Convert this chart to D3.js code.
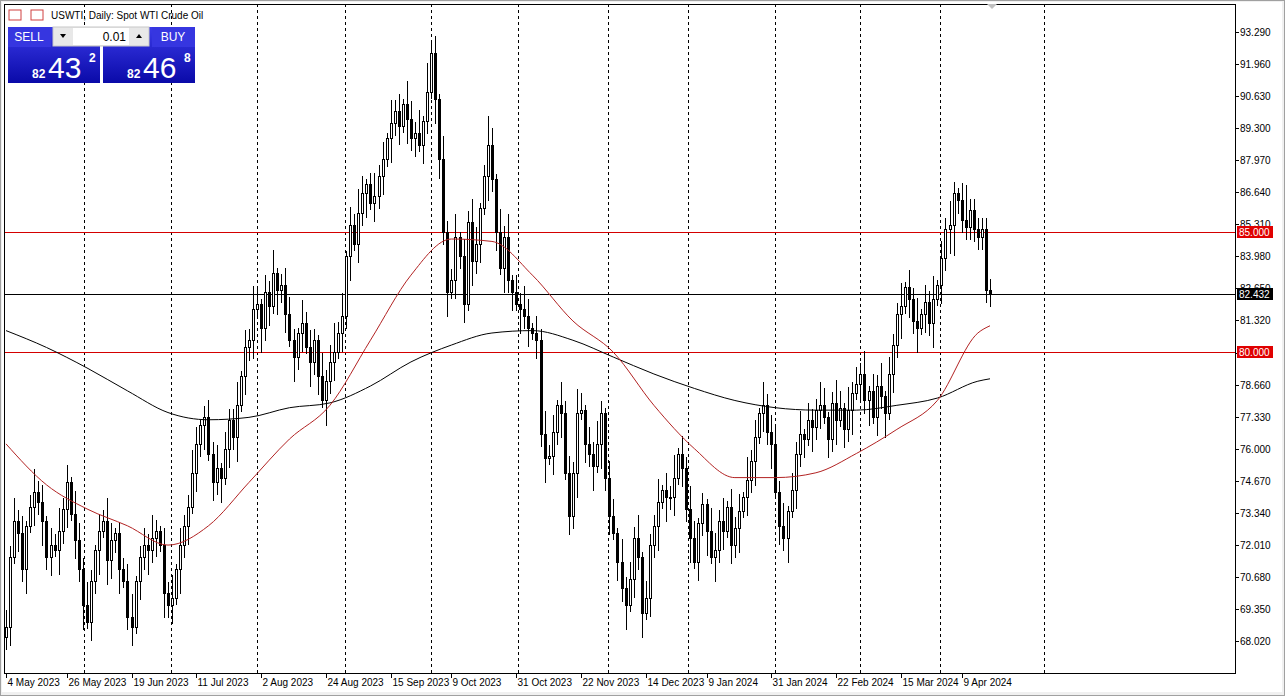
<!DOCTYPE html>
<html><head><meta charset="utf-8">
<script src="https://cdn.jsdelivr.net/npm/d3@7"></script>
<style>body{margin:0;background:#fff;overflow:hidden}svg{display:block}text{font-family:"Liberation Sans",Arial,sans-serif}</style>
</head><body><svg id="c" width="1285" height="696"></svg>
<script>
// closing prices, one per daily bar, 4 May 2023 → Apr 2024
const closes = [68.6,71.5,73.0,72.5,71.0,72.8,73.6,74.2,73.8,73.0,71.5,72.0,71.8,72.6,73.5,74.6,73.3,72.2,71.0,69.5,
68.8,70.5,71.8,72.6,73.0,71.4,72.2,72.5,71.0,70.5,69.0,68.6,70.5,71.5,72.0,71.8,72.3,72.6,72.0,70.0,69.5,69.8,
71.0,72.0,72.8,73.6,75.0,76.2,77.0,77.3,75.8,74.6,75.2,74.8,76.0,77.2,76.5,77.8,79.0,
80.2,80.5,81.8,82.0,81.0,82.5,81.9,83.3,82.6,82.8,81.6,80.5,79.8,80.8,81.2,80.2,79.6,80.5,79.0,78.0,78.8,79.6,80.0,80.8,81.5,
84.0,85.3,84.5,85.8,86.6,87.0,86.2,86.5,87.3,88.0,88.9,89.5,90.0,89.4,90.3,89.7,88.9,89.1,88.6,89.6,90.8,92.4,
90.5,88.0,85.0,82.5,83.0,84.8,84.0,82.0,85.4,83.8,84.5,86.0,87.3,88.6,87.2,85.0,83.5,84.8,83.0,82.5,82.0,81.8,81.5,
81.0,80.8,80.5,76.6,75.6,75.7,76.7,77.8,77.5,75.0,73.2,75.0,77.5,77.6,76.2,75.8,75.3,76.2,77.5,74.8,73.2,72.5,
71.3,70.2,69.5,70.6,72.3,71.5,69.2,69.8,72.0,72.8,73.8,74.3,74.0,74.0,74.8,75.8,75.2,73.5,72.3,71.3,72.9,73.7,
72.6,71.5,71.8,73.0,72.6,73.6,72.0,72.7,73.4,74.0,74.7,75.5,76.5,77.5,77.8,76.7,76.2,74.2,72.8,72.3,73.4,74.3,
75.8,76.6,76.4,77.2,76.9,77.6,77.8,77.3,76.4,77.9,77.2,77.7,76.8,77.6,78.3,78.7,79.1,78.0,78.4,77.3,78.6,78.2,
77.5,79.1,80.3,81.6,81.9,82.7,82.2,81.3,81.0,81.6,82.1,81.2,82.2,82.8,83.9,85.1,85.3,86.6,86.3,85.5,85.2,85.9,85.1,84.8,85.1,82.6,82.432];
const firstOpen = 68.2;
// wick lengths per bar in quarter-dollars
const upperWicks = "3242312423132423143242132431223412324213241322431232413224132431324123321423214235241324312423142314324152314224132431253142413243132423142324313242133142324132241324132431214324132314231423324132413224312431423241324132241324132413242136";
const lowerWicks = "2313241324231423132413241432412313242314231423132413241324132314231423142314231423132413241323142314231321432413231423142314231423132413241324132414231324132413241423132413241423132413241324132413231423132413241324132413241324132413245";
// moving averages, sampled at these bar indices
const maIdx = [0,10,20,30,40,50,60,70,80,90,100,110,120,130,140,150,160,170,180,190,200,210,220,230,240,243];
const maRed = [76.2,74.5,73.5,72.8,72.0,72.8,74.6,76.4,77.8,80.5,83.2,84.7,84.6,83.2,81.3,80.0,77.8,76.0,74.8,74.8,75.0,75.8,76.8,78.0,80.8,81.1];
const maBlack = [80.9,80.2,79.35,78.4,77.5,77.2,77.3,77.7,77.9,78.6,79.6,80.3,80.8,80.9,80.5,79.8,79.1,78.5,78.0,77.7,77.6,77.6,77.8,78.1,78.8,78.9];
const priceTicks = [93.290,91.960,90.630,89.300,87.970,86.640,85.310,83.980,82.650,81.320,79.990,78.660,77.330,76.000,74.670,73.340,72.010,70.680,69.350,68.020];
const hideTicks = [79.990];
const levels = [{v:85.000,c:"#d40000"},{v:80.000,c:"#d40000"}];
const bidPrice = 82.432;
const dateLabels = ["4 May 2023","26 May 2023","19 Jun 2023","11 Jul 2023","2 Aug 2023","24 Aug 2023","15 Sep 2023","9 Oct 2023","31 Oct 2023","22 Nov 2023","14 Dec 2023","9 Jan 2024","31 Jan 2024","22 Feb 2024","15 Mar 2024","9 Apr 2024"];
const dateIdx = [0,15,31,47,63,79,95,110,126,142,158,173,189,205,221,236];
const gridIdx = [19.3,40.7,62,83.7,105,126.4,148.6,168.4,189.9,210.9,230.6,256.3];

const svg = d3.select("#c");
const L=4,R=1235,T=4,B=673;
const x = d3.scaleLinear().domain([0,243]).range([6,990]);
const y = d3.scaleLinear().domain([68.02,93.29]).range([641,32]);
const X = v=>Math.round(x(v))+0.5, Y=v=>Math.round(y(v))+0.5;

svg.append("rect").attr("x",0.5).attr("y",0.5).attr("width",1284).attr("height",695).attr("fill","#f0f0f0").attr("stroke","#a0a0a0");
svg.append("rect").attr("x",2).attr("y",2).attr("width",1280).attr("height",690).attr("fill","#fff");
const g = svg.append("g").attr("shape-rendering","crispEdges");

g.selectAll(".vg").data(gridIdx).join("line").attr("x1",d=>X(d)).attr("x2",d=>X(d)).attr("y1",T).attr("y2",B)
 .attr("stroke","#000").attr("stroke-dasharray","3,3");

levels.forEach(l=>g.append("line").attr("x1",L).attr("x2",R).attr("y1",Y(l.v)).attr("y2",Y(l.v)).attr("stroke",l.c));
g.append("line").attr("x1",L).attr("x2",R).attr("y1",Y(bidPrice)).attr("y2",Y(bidPrice)).attr("stroke","#000");

const line = d3.line().curve(d3.curveMonotoneX);
const maPts = arr=>arr.map((v,i)=>[x(maIdx[i]),y(v)]);
svg.append("path").attr("d",line(maPts(maBlack))).attr("fill","none").attr("stroke","#000").attr("stroke-width",1);
svg.append("path").attr("d",line(maPts(maRed))).attr("fill","none").attr("stroke","#b22222").attr("stroke-width",1);

const bars = closes.map((c,i)=>{
  const o = i===0?firstOpen:closes[i-1];
  const uw = (+upperWicks[i]||2)*0.25, lw=(+lowerWicks[i]||2)*0.25;
  return {i,o,c,h:Math.max(o,c)+uw,l:Math.min(o,c)-lw};
});
const cg = g.selectAll(".cd").data(bars).join("g");
cg.append("line").attr("x1",d=>X(d.i)).attr("x2",d=>X(d.i)).attr("y1",d=>Y(d.h)).attr("y2",d=>Y(d.l)).attr("stroke","#000");
cg.append("rect").attr("x",d=>Math.round(x(d.i))-1+0.5).attr("width",2)
  .attr("y",d=>Math.round(y(Math.max(d.o,d.c)))+0.5)
  .attr("height",d=>Math.max(1,Math.round(y(Math.min(d.o,d.c)))-Math.round(y(Math.max(d.o,d.c)))))
  .attr("fill",d=>d.c>=d.o?"#fff":"#000").attr("stroke","#000");

g.append("line").attr("x1",R+0.5).attr("x2",R+0.5).attr("y1",T).attr("y2",B+0.5).attr("stroke","#000");
g.append("line").attr("x1",L).attr("x2",R+0.5).attr("y1",B+0.5).attr("y2",B+0.5).attr("stroke","#000");
g.append("line").attr("x1",L+0.5).attr("x2",L+0.5).attr("y1",T).attr("y2",B+0.5).attr("stroke","#000");
g.append("line").attr("x1",L).attr("x2",R).attr("y1",T+0.5).attr("y2",T+0.5).attr("stroke","#000");
svg.append("path").attr("d","M987,4 L997,4 L992,9 Z").attr("fill","#c0c0c0");

priceTicks.forEach(p=>{
  g.append("line").attr("x1",R).attr("x2",R+4).attr("y1",Y(p)).attr("y2",Y(p)).attr("stroke","#000");
  if(!hideTicks.includes(p)) svg.append("text").attr("x",R+5).attr("y",y(p)+4).attr("font-size",10).text(p.toFixed(3));
});
const tag=(v,c)=>{svg.append("rect").attr("x",R+2).attr("y",Math.round(y(v))-6).attr("width",36).attr("height",12).attr("fill",c);
  svg.append("text").attr("x",R+4).attr("y",y(v)+4).attr("font-size",10).attr("fill","#fff").text(v.toFixed(3));};
levels.forEach(l=>tag(l.v,"#e00000")); tag(bidPrice,"#000");

dateIdx.forEach((d,k)=>{
  const xx=X(d);
  g.append("line").attr("x1",xx).attr("x2",xx).attr("y1",B).attr("y2",B+5).attr("stroke","#000");
  svg.append("text").attr("x",xx+1).attr("y",B+13).attr("font-size",10).text(dateLabels[k]);
});

// title
svg.append("rect").attr("x",9).attr("y",10).attr("width",12).attr("height",10).attr("fill","none").attr("stroke","#d04040");
svg.append("rect").attr("x",31).attr("y",10).attr("width",12).attr("height",10).attr("fill","none").attr("stroke","#d04040");
svg.append("text").attr("x",51).attr("y",19).attr("font-size",10).text("USWTI, Daily:  Spot WTI Crude Oil");

const defs=svg.append("defs"); const gr=defs.append("linearGradient").attr("id","bl").attr("x1",0).attr("y1",0).attr("x2",0).attr("y2",1);
gr.append("stop").attr("offset",0).attr("stop-color","#3a3ae8"); gr.append("stop").attr("offset",1).attr("stop-color","#0a0aa8");
[[8,"SELL","82","43","2"],[103,"BUY","82","46","8"]].forEach(([px,lab,a,b,c])=>{
  svg.append("rect").attr("x",px).attr("y",27).attr("width",92).attr("height",56).attr("fill","url(#bl)");
  svg.append("rect").attr("x",px+(lab==="SELL"?0:49)).attr("y",27).attr("width",43).attr("height",20).attr("fill","#3636e0");
  svg.append("text").attr("x",px+(lab==="SELL"?21:70)).attr("y",41).attr("font-size",12).attr("fill","#fff").attr("text-anchor","middle").text(lab);
  svg.append("text").attr("x",px+24).attr("y",78).attr("font-size",12).attr("fill","#fff").attr("font-weight","bold").text(a);
  svg.append("text").attr("x",px+40).attr("y",78).attr("font-size",30).attr("fill","#fff").text(b);
  svg.append("text").attr("x",px+81).attr("y",62).attr("font-size",12).attr("fill","#fff").attr("font-weight","bold").text(c);
});
svg.append("rect").attr("x",53).attr("y",27).attr("width",96).attr("height",19).attr("fill","#e8e8e8").attr("stroke","#c8c8c8");
svg.append("rect").attr("x",73).attr("y",28).attr("width",56).attr("height",17).attr("fill","#fff");
svg.append("text").attr("x",126).attr("y",41).attr("font-size",12).attr("text-anchor","end").text("0.01");
svg.append("path").attr("d","M60,34 L66,34 L63,38 Z").attr("fill","#000");
svg.append("path").attr("d","M136,38 L142,38 L139,34 Z").attr("fill","#000");
</script></body></html>
